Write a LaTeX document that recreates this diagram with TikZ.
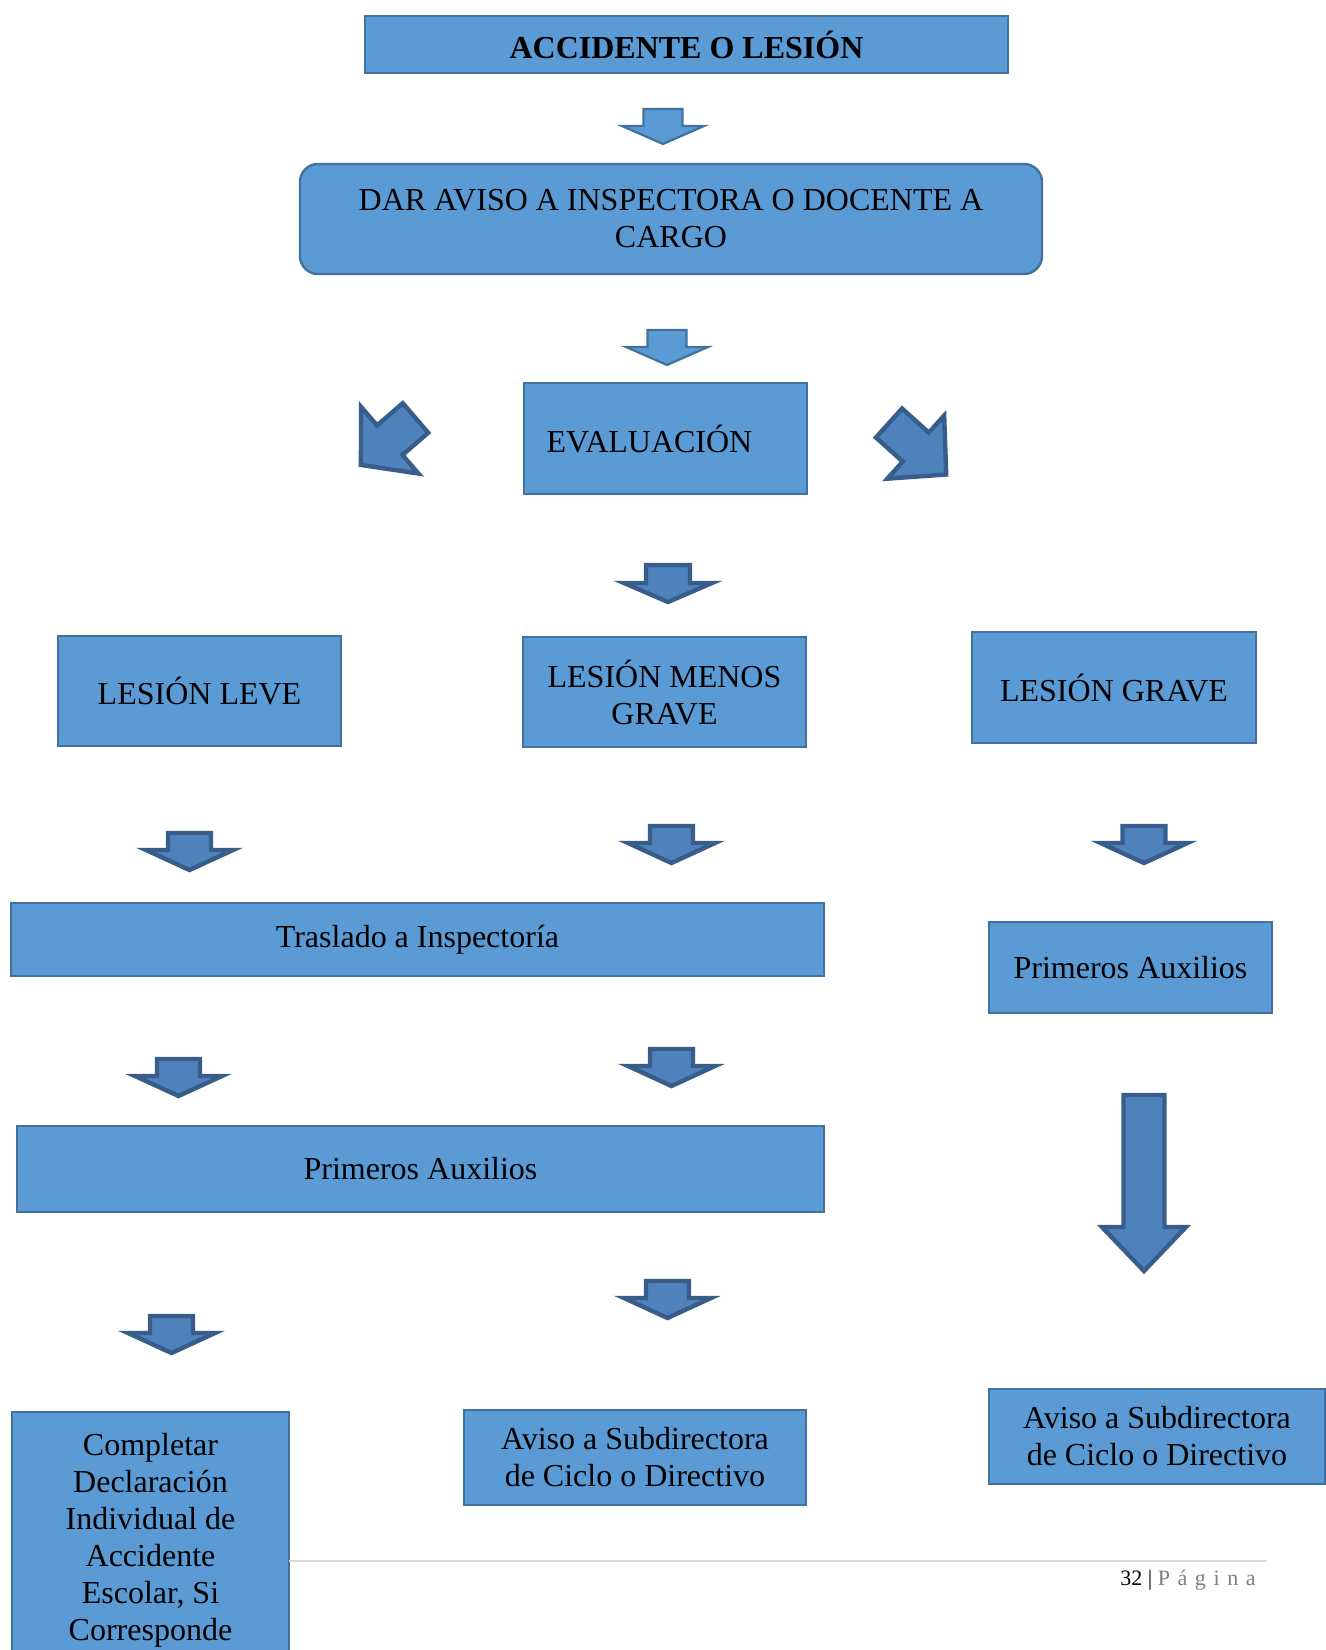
\documentclass[tikz,border=0pt]{standalone}
\usepackage{fontspec}
\setmainfont{Liberation Serif}
\definecolor{rellenocaja}{HTML}{5B9BD5}
\definecolor{bordecaja}{HTML}{41719C}
\definecolor{rellenoflecha}{HTML}{4F81BD}
\definecolor{bordeflecha}{HTML}{385D8A}
\definecolor{gris}{HTML}{7F7F7F}
\definecolor{grispie}{HTML}{D9D9D9}
\tikzset{caja/.style={draw=bordecaja,fill=rellenocaja,line width=1.2pt,inner sep=0pt,align=center,font=\fontsize{16}{18.5}\selectfont}}
\tikzset{fosca/.style={draw=bordeflecha,fill=rellenoflecha,line width=2.2pt}}
\tikzset{clara/.style={draw=bordecaja,fill=rellenocaja,line width=1.1pt}}
\tikzset{pics/bloque/.style n args={4}{code={
  \path[pic actions] (-#2/2,0) -- (#2/2,0) -- (#2/2,#3-#4) -- (#1/2,#3-#4) -- (0,#3)
    -- (-#1/2,#3-#4) -- (-#2/2,#3-#4) -- cycle;
}}}

\begin{document}
\begin{tikzpicture}[x=0.5pt,y=-0.5pt]
    \useasboundingbox (0,0) rectangle (1326,1650);

    % cajas
    \node[caja,minimum width=321.5pt,minimum height=28.5pt,font=\fontsize{16}{18.5}\selectfont\bfseries] (accidente) at (686.5,44.5) {ACCIDENTE O LESIÓN};
    \node[caja,rounded corners=9pt,minimum width=371pt,minimum height=55pt] (aviso) at (671,219) {DAR AVISO A INSPECTORA O DOCENTE A\\CARGO};
    \node[caja,minimum width=141.5pt,minimum height=55.5pt] (evaluacion) at (665.5,438.5) {EVALUACIÓN\hspace*{16pt}};
    \node[caja,minimum width=141.5pt,minimum height=55pt] (leve) at (199.5,691) {LESIÓN LEVE};
    \node[caja,minimum width=141.5pt,minimum height=55pt] (menos) at (664.5,692) {LESIÓN MENOS\\GRAVE};
    \node[caja,minimum width=142pt,minimum height=55.5pt] (grave) at (1114,687.5) {LESIÓN GRAVE};
    \node[caja,minimum width=406.5pt,minimum height=36.5pt] (traslado) at (417.5,939.5) {Traslado a Inspectoría};
    \node[caja,minimum width=141.5pt,minimum height=45.5pt] (auxder) at (1130.5,967.5) {Primeros Auxilios};
    \node[caja,minimum width=403.5pt,minimum height=43pt] (auxizq) at (420.5,1169) {Primeros Auxilios};
    \node[caja,anchor=north,minimum width=138.5pt,inner ysep=10.5pt] (completar) at (150.5,1411) {Completar\\Declaración\\Individual de\\Accidente\\Escolar, Si\\Corresponde};
    \node[caja,minimum width=171pt,minimum height=47.5pt] (subcentro) at (635,1457.5) {Aviso a Subdirectora\\de Ciclo o Directivo};
    \node[caja,minimum width=168pt,minimum height=47.5pt] (subder) at (1157,1436.5) {Aviso a Subdirectora\\de Ciclo o Directivo};

    % flechas
    \pic[clara] at (663,109) {bloque={82}{39}{35}{18}};
    \pic[clara] at (667,330) {bloque={82}{39}{35}{18}};
    \pic[fosca,rotate=-49.3] at (415.5,418) {bloque={88}{39}{72}{38}};
    \pic[fosca,rotate=48] at (889,423) {bloque={85}{39}{77}{41}};
    \pic[fosca] at (668,565) {bloque={88}{44}{37}{19}};
    \foreach \x/\y in {189.5/833, 671.5/826, 1144/826, 178.5/1059, 671.5/1049, 171.5/1316, 667.5/1281}{
      \pic[fosca] at (\x,\y) {bloque={87}{43}{37}{20}};
    }
    \pic[fosca] at (1144,1095) {bloque={84}{41}{176}{44}};

    % pie de pagina
    \draw[grispie,line width=0.8pt] (289,1561) -- (1267,1561);
    \node[anchor=base west,inner sep=0pt,font=\fontsize{11}{13}\selectfont] (pie) at (1120,1585) {32 | \textcolor{gris}{\spaceskip=3.8pt P á g i n a}};
\end{tikzpicture}
\end{document}
